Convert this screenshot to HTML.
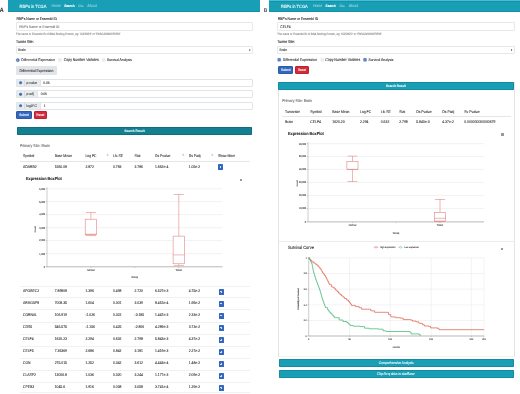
<!DOCTYPE html><html><head><meta charset="utf-8"><style>
html,body{margin:0;padding:0;background:#fff;width:520px;height:394px;overflow:hidden}
.b{position:absolute;box-sizing:border-box}
.t{position:absolute;white-space:nowrap;font-family:"Liberation Sans",sans-serif;line-height:1;text-rendering:geometricPrecision;-webkit-text-stroke-width:0.08px;transform:scaleY(1.15)}
svg{position:absolute;left:0;top:0}
#w{position:absolute;left:0;top:0;width:520px;height:394px;will-change:transform;filter:blur(0.25px)}
</style></head><body><div id="w">
<div class="t" style="left:-0.3px;top:9.4px;font-size:5.4px;font-weight:bold;color:#333">A</div>
<div class="t" style="left:263.7px;top:10.1px;font-size:4.8px;font-weight:bold;color:#555">B</div>
<div class="b" style="left:8.00px;top:0.00px;width:252.30px;height:11.80px;background:#189fb6"></div>
<div class="b" style="left:8.00px;top:10.70px;width:252.30px;height:0.80px;background:#1690a5"></div>
<div class="t" style="left:19.60px;top:5.00px;font-size:4.042px;color:#fff;">RBPs in TCGA</div>
<div class="t" style="left:51.50px;top:5.00px;font-size:3.483px;color:rgba(255,255,255,.45);">Home</div>
<div class="t" style="left:64.20px;top:5.00px;font-size:3.118px;color:#fff;font-weight:bold;">Search</div>
<div class="t" style="left:78.00px;top:5.00px;font-size:2.978px;color:rgba(255,255,255,.45);">Cite</div>
<div class="t" style="left:87.30px;top:5.00px;font-size:3.709px;color:rgba(255,255,255,.45);">About</div>
<div class="b" style="left:269.40px;top:0.00px;width:250.60px;height:11.80px;background:#189fb6"></div>
<div class="b" style="left:269.40px;top:10.70px;width:250.60px;height:0.80px;background:#1690a5"></div>
<div class="b" style="left:269.40px;top:0.00px;width:250.60px;height:0.90px;background:#48bed6"></div>
<div class="b" style="left:269.40px;top:0.90px;width:250.60px;height:0.60px;background:#1592a8"></div>
<div class="t" style="left:281.00px;top:5.00px;font-size:4.042px;color:#fff;">RBPs in TCGA</div>
<div class="t" style="left:312.90px;top:5.00px;font-size:3.483px;color:rgba(255,255,255,.45);">Home</div>
<div class="t" style="left:325.60px;top:5.00px;font-size:3.118px;color:#fff;font-weight:bold;">Search</div>
<div class="t" style="left:339.40px;top:5.00px;font-size:2.978px;color:rgba(255,255,255,.45);">Cite</div>
<div class="t" style="left:348.70px;top:5.00px;font-size:3.709px;color:rgba(255,255,255,.45);">About</div>
<div class="t" style="left:16.40px;top:18.00px;font-size:3.299px;color:#222;">RBP's Name or Ensembl ID</div>
<div class="b" style="left:15.90px;top:21.80px;width:237.10px;height:9.30px;border:0.35px solid #e6e8eb;border-radius:1px;background:#fff"></div>
<div class="t" style="left:19.20px;top:26.00px;font-size:3.275px;color:#777;">RBP's Name or Ensembl ID</div>
<div class="t" style="left:16.00px;top:34.00px;font-size:2.684px;color:#888;">The name or Ensembl ID of RNA Binding Protein, eg: 'IGF2BP2' or 'ENSG00000073792'</div>
<div class="t" style="left:16.00px;top:41.00px;font-size:3.450px;color:#222;">Tumor Site:</div>
<div class="b" style="left:15.90px;top:46.10px;width:237.10px;height:7.80px;border:0.35px solid #e6e8eb;border-radius:1px;background:#fff"></div>
<div class="t" style="left:18.30px;top:49.00px;font-size:3.200px;color:#333;">Brain</div>
<div class="t" style="left:277.70px;top:18.00px;font-size:3.299px;color:#222;">RBP's Name or Ensembl ID</div>
<div class="b" style="left:277.20px;top:21.80px;width:237.60px;height:9.30px;border:0.35px solid #e6e8eb;border-radius:1px;background:#fff"></div>
<div class="t" style="left:280.30px;top:26.00px;font-size:3.300px;color:#333;">CELF4</div>
<div class="t" style="left:277.30px;top:34.00px;font-size:2.684px;color:#888;">The name or Ensembl ID of RNA Binding Protein, eg: 'IGF2BP2' or 'ENSG00000073792'</div>
<div class="t" style="left:277.30px;top:41.00px;font-size:3.450px;color:#222;">Tumor Site:</div>
<div class="b" style="left:277.20px;top:46.10px;width:237.60px;height:7.80px;border:0.35px solid #e6e8eb;border-radius:1px;background:#fff"></div>
<div class="t" style="left:279.60px;top:49.00px;font-size:3.200px;color:#333;">Brain</div>
<div class="t" style="left:21.30px;top:59.00px;font-size:3.375px;color:#333;">Differential Expression</div>
<div class="t" style="left:63.80px;top:59.00px;font-size:3.476px;color:#333;">Copy Number Variates</div>
<div class="t" style="left:107.00px;top:59.00px;font-size:3.331px;color:#333;">Survival Analysis</div>
<div class="b" style="left:16.00px;top:66.30px;width:41.00px;height:8.30px;background:#e1e4e8;border-radius:1px"></div>
<div class="t" style="left:19.50px;top:70.00px;font-size:3.405px;color:#333;">Differential Expression</div>
<div class="b" style="left:16.00px;top:78.90px;width:237.00px;height:7.70px;border:0.3px solid #e2e5e8;border-radius:1px;background:#fff"></div>
<div class="b" style="left:16.00px;top:78.90px;width:24.50px;height:7.70px;background:#e9ecef;border:0.3px solid #e2e5e8;border-radius:1px 0 0 1px"></div>
<div class="b" style="left:24.10px;top:79.20px;width:0.30px;height:7.10px;background:#d8dce0"></div>
<div class="t" style="left:26.50px;top:82.00px;font-size:3.200px;color:#444;">p-value</div>
<div class="t" style="left:43.30px;top:82.00px;font-size:3.200px;color:#333;">0.05</div>
<div class="b" style="left:16.00px;top:90.40px;width:237.00px;height:7.90px;border:0.3px solid #e2e5e8;border-radius:1px;background:#fff"></div>
<div class="b" style="left:16.00px;top:90.40px;width:21.90px;height:7.90px;background:#e9ecef;border:0.3px solid #e2e5e8;border-radius:1px 0 0 1px"></div>
<div class="b" style="left:24.10px;top:90.70px;width:0.30px;height:7.30px;background:#d8dce0"></div>
<div class="t" style="left:26.50px;top:93.00px;font-size:3.200px;color:#444;">p-adj</div>
<div class="t" style="left:40.70px;top:93.00px;font-size:3.200px;color:#333;">0.05</div>
<div class="b" style="left:16.00px;top:102.00px;width:237.00px;height:7.50px;border:0.3px solid #e2e5e8;border-radius:1px;background:#fff"></div>
<div class="b" style="left:16.00px;top:102.00px;width:25.00px;height:7.50px;background:#e9ecef;border:0.3px solid #e2e5e8;border-radius:1px 0 0 1px"></div>
<div class="b" style="left:24.10px;top:102.30px;width:0.30px;height:6.90px;background:#d8dce0"></div>
<div class="t" style="left:26.50px;top:105.00px;font-size:3.200px;color:#444;">log2FC</div>
<div class="t" style="left:43.80px;top:105.00px;font-size:3.200px;color:#333;">1</div>
<div class="b" style="left:16.00px;top:111.00px;width:16.20px;height:7.80px;background:#3468bd;border-radius:1px;border:0.5px solid #2b5aa6"></div>
<div class="t" style="left:19.28px;top:114.00px;font-size:3.100px;color:#fff;">Submit</div>
<div class="b" style="left:33.90px;top:111.00px;width:12.90px;height:7.80px;background:#d62a3b;border-radius:1px;border:0.5px solid #bb2232"></div>
<div class="t" style="left:36.30px;top:114.00px;font-size:3.100px;color:#fff;">Reset</div>
<div class="b" style="left:17.20px;top:126.80px;width:235.30px;height:7.90px;background:#137f91;border-radius:0.8px;border:0.5px solid #0f6e7e"></div>
<div class="t" style="left:124.60px;top:130.00px;font-size:3.028px;color:#e8f6f8;font-weight:bold;">Search Result</div>
<div class="t" style="left:20.00px;top:145.00px;font-size:3.599px;color:#6a6a6a;">Primary Site: Brain</div>
<div class="t" style="left:23.00px;top:155.00px;font-size:3.400px;color:#333;">Symbol</div>
<div class="t" style="left:54.70px;top:155.00px;font-size:3.400px;color:#333;">Base Mean</div>
<div class="t" style="left:85.40px;top:155.00px;font-size:3.400px;color:#333;">Log FC</div>
<div class="t" style="left:113.00px;top:155.00px;font-size:3.400px;color:#333;">Lfc SE</div>
<div class="t" style="left:134.50px;top:155.00px;font-size:3.400px;color:#333;">Stat</div>
<div class="t" style="left:155.00px;top:155.00px;font-size:3.400px;color:#333;">Ds Pvalue</div>
<div class="t" style="left:188.75px;top:155.00px;font-size:3.400px;color:#333;">Ds Padj</div>
<div class="t" style="left:218.00px;top:155.00px;font-size:3.400px;color:#333;">Show More</div>
<div class="t" style="left:106.60px;top:154.50px;font-size:2.6px;color:#bbb">&#8645;</div>
<div class="t" style="left:182.20px;top:154.50px;font-size:2.6px;color:#bbb">&#8645;</div>
<div class="t" style="left:211.20px;top:154.50px;font-size:2.6px;color:#bbb">&#8645;</div>
<div class="b" style="left:20.00px;top:161.00px;width:230.00px;height:0.35px;background:#e6e6e6"></div>
<div class="t" style="left:23.00px;top:166.00px;font-size:3.400px;color:#333;">ADARB2</div>
<div class="t" style="left:54.70px;top:166.00px;font-size:3.400px;color:#333;">1560.08</div>
<div class="t" style="left:85.40px;top:166.00px;font-size:3.400px;color:#333;">2.872</div>
<div class="t" style="left:113.00px;top:166.00px;font-size:3.400px;color:#333;">0.783</div>
<div class="t" style="left:134.50px;top:166.00px;font-size:3.400px;color:#333;">3.786</div>
<div class="t" style="left:155.00px;top:166.00px;font-size:3.400px;color:#333;">1.662e-4</div>
<div class="t" style="left:188.75px;top:166.00px;font-size:3.400px;color:#333;">1.05e-2</div>
<div class="b" style="left:218.00px;top:164.30px;width:5.00px;height:6.00px;background:#3468bd;border-radius:0.6px"></div>
<div class="b" style="left:219.60px;top:167.05px;width:1.8px;height:0.5px;background:#cfe0ff"></div>
<div class="b" style="left:220.25px;top:166.40px;width:0.5px;height:1.8px;background:#cfe0ff"></div>
<div class="b" style="left:20.00px;top:285.50px;width:230.00px;height:0.30px;background:#f1f1f1"></div>
<div class="t" style="left:23.00px;top:290.00px;font-size:3.400px;color:#333;">APOBEC2</div>
<div class="t" style="left:54.70px;top:290.00px;font-size:3.400px;color:#333;">7.89808</div>
<div class="t" style="left:85.40px;top:290.00px;font-size:3.400px;color:#333;">1.396</div>
<div class="t" style="left:113.00px;top:290.00px;font-size:3.400px;color:#333;">0.498</div>
<div class="t" style="left:134.50px;top:290.00px;font-size:3.400px;color:#333;">2.720</div>
<div class="t" style="left:155.00px;top:290.00px;font-size:3.400px;color:#333;">6.527e-3</div>
<div class="t" style="left:188.75px;top:290.00px;font-size:3.400px;color:#333;">4.75e-2</div>
<div class="b" style="left:218.50px;top:288.70px;width:5.00px;height:6.00px;background:#3468bd;border-radius:0.6px"></div>
<div class="b" style="left:220.10px;top:291.45px;width:1.8px;height:0.5px;background:#cfe0ff"></div>
<div class="b" style="left:220.75px;top:290.80px;width:0.5px;height:1.8px;background:#cfe0ff"></div>
<div class="b" style="left:20.00px;top:297.30px;width:230.00px;height:0.30px;background:#f1f1f1"></div>
<div class="t" style="left:23.00px;top:302.00px;font-size:3.400px;color:#333;">ARHGAP8</div>
<div class="t" style="left:54.70px;top:302.00px;font-size:3.400px;color:#333;">7008.35</div>
<div class="t" style="left:85.40px;top:302.00px;font-size:3.400px;color:#333;">1.604</div>
<div class="t" style="left:113.00px;top:302.00px;font-size:3.400px;color:#333;">0.301</div>
<div class="t" style="left:134.50px;top:302.00px;font-size:3.400px;color:#333;">3.039</div>
<div class="t" style="left:155.00px;top:302.00px;font-size:3.400px;color:#333;">8.415e-4</div>
<div class="t" style="left:188.75px;top:302.00px;font-size:3.400px;color:#333;">1.95e-2</div>
<div class="b" style="left:218.50px;top:300.50px;width:5.00px;height:6.00px;background:#3468bd;border-radius:0.6px"></div>
<div class="b" style="left:220.10px;top:303.25px;width:1.8px;height:0.5px;background:#cfe0ff"></div>
<div class="b" style="left:220.75px;top:302.60px;width:0.5px;height:1.8px;background:#cfe0ff"></div>
<div class="b" style="left:20.00px;top:309.30px;width:230.00px;height:0.30px;background:#f1f1f1"></div>
<div class="t" style="left:23.00px;top:314.00px;font-size:3.400px;color:#333;">CORNAL</div>
<div class="t" style="left:54.70px;top:314.00px;font-size:3.400px;color:#333;">106.919</div>
<div class="t" style="left:85.40px;top:314.00px;font-size:3.400px;color:#333;">-1.026</div>
<div class="t" style="left:113.00px;top:314.00px;font-size:3.400px;color:#333;">0.322</div>
<div class="t" style="left:134.50px;top:314.00px;font-size:3.400px;color:#333;">-3.185</div>
<div class="t" style="left:155.00px;top:314.00px;font-size:3.400px;color:#333;">1.447e-3</div>
<div class="t" style="left:188.75px;top:314.00px;font-size:3.400px;color:#333;">2.33e-2</div>
<div class="b" style="left:218.50px;top:312.50px;width:5.00px;height:6.00px;background:#3468bd;border-radius:0.6px"></div>
<div class="b" style="left:220.10px;top:315.25px;width:1.8px;height:0.5px;background:#cfe0ff"></div>
<div class="b" style="left:220.75px;top:314.60px;width:0.5px;height:1.8px;background:#cfe0ff"></div>
<div class="b" style="left:20.00px;top:321.50px;width:230.00px;height:0.30px;background:#f1f1f1"></div>
<div class="t" style="left:23.00px;top:326.00px;font-size:3.400px;color:#333;">CDS5</div>
<div class="t" style="left:54.70px;top:326.00px;font-size:3.400px;color:#333;">546.575</div>
<div class="t" style="left:85.40px;top:326.00px;font-size:3.400px;color:#333;">-1.156</div>
<div class="t" style="left:113.00px;top:326.00px;font-size:3.400px;color:#333;">0.425</div>
<div class="t" style="left:134.50px;top:326.00px;font-size:3.400px;color:#333;">-2.806</div>
<div class="t" style="left:155.00px;top:326.00px;font-size:3.400px;color:#333;">4.289e-3</div>
<div class="t" style="left:188.75px;top:326.00px;font-size:3.400px;color:#333;">3.73e-2</div>
<div class="b" style="left:218.50px;top:324.70px;width:5.00px;height:6.00px;background:#3468bd;border-radius:0.6px"></div>
<div class="b" style="left:220.10px;top:327.45px;width:1.8px;height:0.5px;background:#cfe0ff"></div>
<div class="b" style="left:220.75px;top:326.80px;width:0.5px;height:1.8px;background:#cfe0ff"></div>
<div class="b" style="left:20.00px;top:333.70px;width:230.00px;height:0.30px;background:#f1f1f1"></div>
<div class="t" style="left:23.00px;top:338.00px;font-size:3.400px;color:#333;">CELF4</div>
<div class="t" style="left:54.70px;top:338.00px;font-size:3.400px;color:#333;">1620.23</div>
<div class="t" style="left:85.40px;top:338.00px;font-size:3.400px;color:#333;">2.294</div>
<div class="t" style="left:113.00px;top:338.00px;font-size:3.400px;color:#333;">0.632</div>
<div class="t" style="left:134.50px;top:338.00px;font-size:3.400px;color:#333;">2.798</div>
<div class="t" style="left:155.00px;top:338.00px;font-size:3.400px;color:#333;">5.843e-3</div>
<div class="t" style="left:188.75px;top:338.00px;font-size:3.400px;color:#333;">4.37e-2</div>
<div class="b" style="left:218.50px;top:336.90px;width:5.00px;height:6.00px;background:#3468bd;border-radius:0.6px"></div>
<div class="b" style="left:220.10px;top:339.65px;width:1.8px;height:0.5px;background:#cfe0ff"></div>
<div class="b" style="left:220.75px;top:339.00px;width:0.5px;height:1.8px;background:#cfe0ff"></div>
<div class="b" style="left:20.00px;top:345.70px;width:230.00px;height:0.30px;background:#f1f1f1"></div>
<div class="t" style="left:23.00px;top:350.00px;font-size:3.400px;color:#333;">CELF5</div>
<div class="t" style="left:54.70px;top:350.00px;font-size:3.400px;color:#333;">7.36369</div>
<div class="t" style="left:85.40px;top:350.00px;font-size:3.400px;color:#333;">2.686</div>
<div class="t" style="left:113.00px;top:350.00px;font-size:3.400px;color:#333;">0.842</div>
<div class="t" style="left:134.50px;top:350.00px;font-size:3.400px;color:#333;">3.181</div>
<div class="t" style="left:155.00px;top:350.00px;font-size:3.400px;color:#333;">1.419e-3</div>
<div class="t" style="left:188.75px;top:350.00px;font-size:3.400px;color:#333;">2.27e-2</div>
<div class="b" style="left:218.50px;top:348.90px;width:5.00px;height:6.00px;background:#3468bd;border-radius:0.6px"></div>
<div class="b" style="left:220.10px;top:351.65px;width:1.8px;height:0.5px;background:#cfe0ff"></div>
<div class="b" style="left:220.75px;top:351.00px;width:0.5px;height:1.8px;background:#cfe0ff"></div>
<div class="b" style="left:20.00px;top:357.70px;width:230.00px;height:0.30px;background:#f1f1f1"></div>
<div class="t" style="left:23.00px;top:362.00px;font-size:3.400px;color:#333;">CGN</div>
<div class="t" style="left:54.70px;top:362.00px;font-size:3.400px;color:#333;">275.015</div>
<div class="t" style="left:85.40px;top:362.00px;font-size:3.400px;color:#333;">1.252</div>
<div class="t" style="left:113.00px;top:362.00px;font-size:3.400px;color:#333;">0.342</div>
<div class="t" style="left:134.50px;top:362.00px;font-size:3.400px;color:#333;">3.612</div>
<div class="t" style="left:155.00px;top:362.00px;font-size:3.400px;color:#333;">4.443e-4</div>
<div class="t" style="left:188.75px;top:362.00px;font-size:3.400px;color:#333;">1.48e-2</div>
<div class="b" style="left:218.50px;top:360.90px;width:5.00px;height:6.00px;background:#3468bd;border-radius:0.6px"></div>
<div class="b" style="left:220.10px;top:363.65px;width:1.8px;height:0.5px;background:#cfe0ff"></div>
<div class="b" style="left:220.75px;top:363.00px;width:0.5px;height:1.8px;background:#cfe0ff"></div>
<div class="b" style="left:20.00px;top:369.70px;width:230.00px;height:0.30px;background:#f1f1f1"></div>
<div class="t" style="left:23.00px;top:374.00px;font-size:3.400px;color:#333;">CLASP2</div>
<div class="t" style="left:54.70px;top:374.00px;font-size:3.400px;color:#333;">13006.8</div>
<div class="t" style="left:85.40px;top:374.00px;font-size:3.400px;color:#333;">1.036</div>
<div class="t" style="left:113.00px;top:374.00px;font-size:3.400px;color:#333;">0.320</div>
<div class="t" style="left:134.50px;top:374.00px;font-size:3.400px;color:#333;">3.244</div>
<div class="t" style="left:155.00px;top:374.00px;font-size:3.400px;color:#333;">1.177e-3</div>
<div class="t" style="left:188.75px;top:374.00px;font-size:3.400px;color:#333;">2.09e-2</div>
<div class="b" style="left:218.50px;top:372.90px;width:5.00px;height:6.00px;background:#3468bd;border-radius:0.6px"></div>
<div class="b" style="left:220.10px;top:375.65px;width:1.8px;height:0.5px;background:#cfe0ff"></div>
<div class="b" style="left:220.75px;top:375.00px;width:0.5px;height:1.8px;background:#cfe0ff"></div>
<div class="b" style="left:20.00px;top:381.50px;width:230.00px;height:0.30px;background:#f1f1f1"></div>
<div class="t" style="left:23.00px;top:386.00px;font-size:3.400px;color:#333;">CPEB3</div>
<div class="t" style="left:54.70px;top:386.00px;font-size:3.400px;color:#333;">1045.6</div>
<div class="t" style="left:85.40px;top:386.00px;font-size:3.400px;color:#333;">1.916</div>
<div class="t" style="left:113.00px;top:386.00px;font-size:3.400px;color:#333;">0.038</div>
<div class="t" style="left:134.50px;top:386.00px;font-size:3.400px;color:#333;">3.058</div>
<div class="t" style="left:155.00px;top:386.00px;font-size:3.400px;color:#333;">3.741e-4</div>
<div class="t" style="left:188.75px;top:386.00px;font-size:3.400px;color:#333;">1.29e-2</div>
<div class="b" style="left:218.50px;top:384.70px;width:5.00px;height:6.00px;background:#3468bd;border-radius:0.6px"></div>
<div class="b" style="left:220.10px;top:387.45px;width:1.8px;height:0.5px;background:#cfe0ff"></div>
<div class="b" style="left:220.75px;top:386.80px;width:0.5px;height:1.8px;background:#cfe0ff"></div>
<div class="b" style="left:20.00px;top:392.40px;width:230.00px;height:0.30px;background:#f1f1f1"></div>
<div class="t" style="left:26.00px;top:178.00px;font-size:3.812px;color:#222;font-weight:bold;">Expression BoxPlot</div>
<div class="b" style="left:240.10px;top:178.80px;width:2.2px;height:0.4px;background:#999"></div>
<div class="b" style="left:240.10px;top:179.60px;width:2.2px;height:0.4px;background:#999"></div>
<div class="b" style="left:240.10px;top:180.40px;width:2.2px;height:0.4px;background:#999"></div>
<div class="t" style="left:39.24px;top:189.00px;font-size:2.300px;color:#444;">6,000</div>
<div class="t" style="left:39.24px;top:202.00px;font-size:2.300px;color:#444;">5,000</div>
<div class="t" style="left:39.24px;top:214.00px;font-size:2.300px;color:#444;">4,000</div>
<div class="t" style="left:39.24px;top:228.00px;font-size:2.300px;color:#444;">3,000</div>
<div class="t" style="left:39.24px;top:240.00px;font-size:2.300px;color:#444;">2,000</div>
<div class="t" style="left:39.24px;top:254.00px;font-size:2.300px;color:#444;">1,000</div>
<div class="t" style="left:43.72px;top:267.00px;font-size:2.300px;color:#444;">0</div>
<div class="t" style="left:87.19px;top:270.00px;font-size:2.300px;color:#444;">Normal</div>
<div class="t" style="left:175.52px;top:270.00px;font-size:2.300px;color:#444;">Tumor</div>
<div class="t" style="left:131.55px;top:277.00px;font-size:2.300px;color:#444;">Group</div>
<div class="t" style="left:32.93px;top:227.87px;font-size:2.3px;color:#444;transform:rotate(-90deg);transform-origin:3.07px 1.13px">Count</div>
<div class="b" style="left:277.60px;top:82.20px;width:237.40px;height:275.10px;border:0.4px solid #e4e4e4;border-top:none;border-bottom-color:#f4f4f4"></div>
<div class="b" style="left:278.30px;top:82.00px;width:236.00px;height:8.20px;background:#189fb6;border-radius:0.8px;border:0.5px solid #148ba0"></div>
<div class="t" style="left:386.00px;top:85.00px;font-size:2.999px;color:#eaf8fa;font-weight:bold;">Search Result</div>
<div class="t" style="left:282.20px;top:100.00px;font-size:3.599px;color:#6a6a6a;">Primary Site: Brain</div>
<div class="t" style="left:285.00px;top:111.00px;font-size:3.400px;color:#333;">Tumorsite</div>
<div class="t" style="left:310.30px;top:111.00px;font-size:3.400px;color:#333;">Symbol</div>
<div class="t" style="left:332.30px;top:111.00px;font-size:3.400px;color:#333;">Base Mean</div>
<div class="t" style="left:360.00px;top:111.00px;font-size:3.400px;color:#333;">Log FC</div>
<div class="t" style="left:380.80px;top:111.00px;font-size:3.400px;color:#333;">Lfc SE</div>
<div class="t" style="left:399.20px;top:111.00px;font-size:3.400px;color:#333;">Stat</div>
<div class="t" style="left:416.20px;top:111.00px;font-size:3.400px;color:#333;">Ds Pvalue</div>
<div class="t" style="left:442.30px;top:111.00px;font-size:3.400px;color:#333;">Ds Padj</div>
<div class="t" style="left:464.30px;top:111.00px;font-size:3.400px;color:#333;">Sv Pvalue</div>
<div class="b" style="left:282.00px;top:116.10px;width:228.50px;height:0.35px;background:#e6e6e6"></div>
<div class="t" style="left:285.00px;top:121.00px;font-size:3.400px;color:#333;">Brain</div>
<div class="t" style="left:310.30px;top:121.00px;font-size:3.400px;color:#333;">CELF4</div>
<div class="t" style="left:332.30px;top:121.00px;font-size:3.400px;color:#333;">1620.23</div>
<div class="t" style="left:360.00px;top:121.00px;font-size:3.400px;color:#333;">2.294</div>
<div class="t" style="left:380.80px;top:121.00px;font-size:3.400px;color:#333;">0.632</div>
<div class="t" style="left:399.20px;top:121.00px;font-size:3.400px;color:#333;">2.798</div>
<div class="t" style="left:416.20px;top:121.00px;font-size:3.400px;color:#333;">5.843e-3</div>
<div class="t" style="left:442.30px;top:121.00px;font-size:3.400px;color:#333;">4.37e-2</div>
<div class="t" style="left:464.30px;top:121.00px;font-size:3.400px;color:#333;">0.000000000000679</div>
<div class="t" style="left:288.00px;top:133.00px;font-size:3.812px;color:#222;font-weight:bold;">Expression BoxPlot</div>
<div class="b" style="left:501.40px;top:133.30px;width:2.2px;height:0.4px;background:#999"></div>
<div class="b" style="left:501.40px;top:134.10px;width:2.2px;height:0.4px;background:#999"></div>
<div class="b" style="left:501.40px;top:134.90px;width:2.2px;height:0.4px;background:#999"></div>
<div class="t" style="left:298.96px;top:144.00px;font-size:2.300px;color:#444;">60,000</div>
<div class="t" style="left:298.96px;top:156.00px;font-size:2.300px;color:#444;">50,000</div>
<div class="t" style="left:298.96px;top:169.00px;font-size:2.300px;color:#444;">40,000</div>
<div class="t" style="left:298.96px;top:182.00px;font-size:2.300px;color:#444;">30,000</div>
<div class="t" style="left:298.96px;top:195.00px;font-size:2.300px;color:#444;">20,000</div>
<div class="t" style="left:298.96px;top:208.00px;font-size:2.300px;color:#444;">10,000</div>
<div class="t" style="left:304.72px;top:222.00px;font-size:2.300px;color:#444;">0</div>
<div class="t" style="left:348.79px;top:225.00px;font-size:2.300px;color:#444;">Normal</div>
<div class="t" style="left:436.72px;top:225.00px;font-size:2.300px;color:#444;">Tumor</div>
<div class="t" style="left:392.80px;top:233.00px;font-size:2.300px;color:#444;">Group</div>
<div class="t" style="left:294.63px;top:182.27px;font-size:2.3px;color:#444;transform:rotate(-90deg);transform-origin:3.07px 1.13px">Count</div>
<div class="b" style="left:279.00px;top:241.00px;width:235.50px;height:0.35px;background:#ececec"></div>
<div class="t" style="left:287.90px;top:246.00px;font-size:4.015px;color:#222;">Survival Curve</div>
<div class="b" style="left:501.30px;top:247.80px;width:2.2px;height:0.4px;background:#999"></div>
<div class="b" style="left:501.30px;top:248.60px;width:2.2px;height:0.4px;background:#999"></div>
<div class="b" style="left:501.30px;top:249.40px;width:2.2px;height:0.4px;background:#999"></div>
<div class="t" style="left:380.00px;top:247.00px;font-size:2.176px;color:#444;">High expression</div>
<div class="t" style="left:404.20px;top:247.00px;font-size:2.158px;color:#444;">Low expression</div>
<div class="t" style="left:305.58px;top:258.00px;font-size:2.200px;color:#444;">1</div>
<div class="t" style="left:303.74px;top:273.00px;font-size:2.200px;color:#444;">0.8</div>
<div class="t" style="left:303.74px;top:289.00px;font-size:2.200px;color:#444;">0.6</div>
<div class="t" style="left:303.74px;top:305.00px;font-size:2.200px;color:#444;">0.4</div>
<div class="t" style="left:303.74px;top:320.00px;font-size:2.200px;color:#444;">0.2</div>
<div class="t" style="left:305.58px;top:336.00px;font-size:2.200px;color:#444;">0</div>
<div class="t" style="left:308.09px;top:339.00px;font-size:2.200px;color:#444;">0</div>
<div class="t" style="left:348.38px;top:339.00px;font-size:2.200px;color:#444;">50</div>
<div class="t" style="left:388.36px;top:339.00px;font-size:2.200px;color:#444;">100</div>
<div class="t" style="left:429.36px;top:339.00px;font-size:2.200px;color:#444;">150</div>
<div class="t" style="left:469.56px;top:339.00px;font-size:2.200px;color:#444;">200</div>
<div class="t" style="left:482.16px;top:339.00px;font-size:2.200px;color:#444;">215</div>
<div class="t" style="left:392.79px;top:347.00px;font-size:2.200px;color:#444;">months</div>
<div class="t" style="left:287.72px;top:297.92px;font-size:2.2px;color:#444;transform:rotate(-90deg);transform-origin:10.58px 1.08px">Probability of Survival</div>
<div class="b" style="left:278.90px;top:358.90px;width:235.10px;height:7.80px;background:#189fb6;border-radius:0.8px;border:0.5px solid #148ba0"></div>
<div class="t" style="left:378.80px;top:362.00px;font-size:3.196px;color:#f0fafb;">Comprehensive Analysis</div>
<div class="b" style="left:278.90px;top:370.20px;width:235.10px;height:7.90px;background:#189fb6;border-radius:0.8px;border:0.5px solid #148ba0"></div>
<div class="t" style="left:377.00px;top:373.00px;font-size:3.351px;color:#f0fafb;">Clip-Seq data in starBase</div>
<div class="t" style="left:282.80px;top:59.00px;font-size:3.425px;color:#333;">Differential Expression</div>
<div class="t" style="left:325.30px;top:59.00px;font-size:3.486px;color:#333;">Copy Number Variates</div>
<div class="t" style="left:368.50px;top:59.00px;font-size:3.331px;color:#333;">Survival Analysis</div>
<div class="b" style="left:277.80px;top:66.40px;width:15.70px;height:7.70px;background:#3468bd;border-radius:1px;border:0.5px solid #2b5aa6"></div>
<div class="t" style="left:280.88px;top:69.00px;font-size:3.100px;color:#fff;">Submit</div>
<div class="b" style="left:295.30px;top:66.40px;width:13.30px;height:7.70px;background:#d62a3b;border-radius:1px;border:0.5px solid #bb2232"></div>
<div class="t" style="left:297.90px;top:69.00px;font-size:3.100px;color:#fff;">Reset</div>
<svg width="520" height="394" viewBox="0 0 520 394"><path d="M249.10,49.7 L250.50,49.7 L249.80,48.8 Z M249.10,50.3 L250.50,50.3 L249.80,51.2 Z" fill="#333"/><path d="M510.90,49.7 L512.30,49.7 L511.60,48.8 Z M510.90,50.3 L512.30,50.3 L511.60,51.2 Z" fill="#333"/><circle cx="17.80" cy="60.10" r="1.65" fill="#3f6db5" stroke="#2f5aa0" stroke-width="0.3"/><circle cx="17.80" cy="60.10" r="0.63" fill="#dde8fa"/><rect x="58.40" y="58.60" width="3.00" height="3.00" rx="0.5" fill="#eef0f2" stroke="#d0d4d8" stroke-width="0.25"/><rect x="102.20" y="58.60" width="3.00" height="3.00" rx="0.5" fill="#eef0f2" stroke="#d0d4d8" stroke-width="0.25"/><circle cx="20.60" cy="82.75" r="1.35" fill="#3f6db5" stroke="#2f5aa0" stroke-width="0.3"/><circle cx="20.60" cy="94.35" r="1.35" fill="#3f6db5" stroke="#2f5aa0" stroke-width="0.3"/><circle cx="20.60" cy="105.75" r="1.35" fill="#3f6db5" stroke="#2f5aa0" stroke-width="0.3"/><line x1="47.00" y1="188.80" x2="222.50" y2="188.80" stroke="#e4e4e4" stroke-width="0.5"/><line x1="45.70" y1="188.80" x2="47.00" y2="188.80" stroke="#9a9a9a" stroke-width="0.4"/><line x1="47.00" y1="201.70" x2="222.50" y2="201.70" stroke="#e4e4e4" stroke-width="0.5"/><line x1="45.70" y1="201.70" x2="47.00" y2="201.70" stroke="#9a9a9a" stroke-width="0.4"/><line x1="47.00" y1="214.60" x2="222.50" y2="214.60" stroke="#e4e4e4" stroke-width="0.5"/><line x1="45.70" y1="214.60" x2="47.00" y2="214.60" stroke="#9a9a9a" stroke-width="0.4"/><line x1="47.00" y1="227.70" x2="222.50" y2="227.70" stroke="#e4e4e4" stroke-width="0.5"/><line x1="45.70" y1="227.70" x2="47.00" y2="227.70" stroke="#9a9a9a" stroke-width="0.4"/><line x1="47.00" y1="240.60" x2="222.50" y2="240.60" stroke="#e4e4e4" stroke-width="0.5"/><line x1="45.70" y1="240.60" x2="47.00" y2="240.60" stroke="#9a9a9a" stroke-width="0.4"/><line x1="47.00" y1="253.70" x2="222.50" y2="253.70" stroke="#e4e4e4" stroke-width="0.5"/><line x1="45.70" y1="253.70" x2="47.00" y2="253.70" stroke="#9a9a9a" stroke-width="0.4"/><line x1="47.00" y1="187.30" x2="47.00" y2="266.80" stroke="#9a9a9a" stroke-width="0.5"/><line x1="45.70" y1="266.80" x2="222.50" y2="266.80" stroke="#9a9a9a" stroke-width="0.7"/><line x1="90.90" y1="266.80" x2="90.90" y2="268.00" stroke="#9a9a9a" stroke-width="0.4"/><line x1="134.75" y1="266.80" x2="134.75" y2="268.00" stroke="#9a9a9a" stroke-width="0.4"/><line x1="178.80" y1="266.80" x2="178.80" y2="268.00" stroke="#9a9a9a" stroke-width="0.4"/><rect x="85.20" y="219.20" width="11.40" height="15.60" stroke="#e07a7a" stroke-width="0.55" fill="#fff"/><line x1="85.80" y1="212.50" x2="96.00" y2="212.50" stroke="#e07a7a" stroke-width="0.55"/><line x1="90.90" y1="212.50" x2="90.90" y2="219.20" stroke="#e07a7a" stroke-width="0.55"/><line x1="90.90" y1="234.80" x2="90.90" y2="235.60" stroke="#e07a7a" stroke-width="0.55"/><line x1="85.80" y1="235.60" x2="96.00" y2="235.60" stroke="#e07a7a" stroke-width="0.55"/><line x1="85.20" y1="234.20" x2="96.60" y2="234.20" stroke="#e07a7a" stroke-width="0.55"/><rect x="173.10" y="236.10" width="11.40" height="27.70" stroke="#e07a7a" stroke-width="0.55" fill="#fff"/><line x1="173.70" y1="194.50" x2="183.90" y2="194.50" stroke="#e07a7a" stroke-width="0.55"/><line x1="178.80" y1="194.50" x2="178.80" y2="236.10" stroke="#e07a7a" stroke-width="0.55"/><line x1="178.80" y1="263.80" x2="178.80" y2="265.60" stroke="#e07a7a" stroke-width="0.55"/><line x1="173.70" y1="265.60" x2="183.90" y2="265.60" stroke="#e07a7a" stroke-width="0.55"/><line x1="173.10" y1="254.90" x2="184.50" y2="254.90" stroke="#e07a7a" stroke-width="0.55"/><line x1="308.00" y1="143.70" x2="484.00" y2="143.70" stroke="#e4e4e4" stroke-width="0.5"/><line x1="306.70" y1="143.70" x2="308.00" y2="143.70" stroke="#9a9a9a" stroke-width="0.4"/><line x1="308.00" y1="156.60" x2="484.00" y2="156.60" stroke="#e4e4e4" stroke-width="0.5"/><line x1="306.70" y1="156.60" x2="308.00" y2="156.60" stroke="#9a9a9a" stroke-width="0.4"/><line x1="308.00" y1="169.40" x2="484.00" y2="169.40" stroke="#e4e4e4" stroke-width="0.5"/><line x1="306.70" y1="169.40" x2="308.00" y2="169.40" stroke="#9a9a9a" stroke-width="0.4"/><line x1="308.00" y1="182.40" x2="484.00" y2="182.40" stroke="#e4e4e4" stroke-width="0.5"/><line x1="306.70" y1="182.40" x2="308.00" y2="182.40" stroke="#9a9a9a" stroke-width="0.4"/><line x1="308.00" y1="195.60" x2="484.00" y2="195.60" stroke="#e4e4e4" stroke-width="0.5"/><line x1="306.70" y1="195.60" x2="308.00" y2="195.60" stroke="#9a9a9a" stroke-width="0.4"/><line x1="308.00" y1="208.60" x2="484.00" y2="208.60" stroke="#e4e4e4" stroke-width="0.5"/><line x1="306.70" y1="208.60" x2="308.00" y2="208.60" stroke="#9a9a9a" stroke-width="0.4"/><line x1="308.00" y1="142.20" x2="308.00" y2="221.90" stroke="#9a9a9a" stroke-width="0.5"/><line x1="306.70" y1="221.90" x2="484.00" y2="221.90" stroke="#9a9a9a" stroke-width="0.7"/><line x1="352.50" y1="221.90" x2="352.50" y2="223.10" stroke="#9a9a9a" stroke-width="0.4"/><line x1="396.00" y1="221.90" x2="396.00" y2="223.10" stroke="#9a9a9a" stroke-width="0.4"/><line x1="440.00" y1="221.90" x2="440.00" y2="223.10" stroke="#9a9a9a" stroke-width="0.4"/><rect x="346.90" y="161.30" width="11.10" height="8.00" stroke="#e07a7a" stroke-width="0.55" fill="#fff"/><line x1="347.50" y1="156.10" x2="357.40" y2="156.10" stroke="#e07a7a" stroke-width="0.55"/><line x1="352.50" y1="156.10" x2="352.50" y2="161.30" stroke="#e07a7a" stroke-width="0.55"/><line x1="352.50" y1="169.30" x2="352.50" y2="181.50" stroke="#e07a7a" stroke-width="0.55"/><line x1="347.50" y1="181.50" x2="357.40" y2="181.50" stroke="#e07a7a" stroke-width="0.55"/><line x1="346.90" y1="169.30" x2="358.00" y2="169.30" stroke="#e07a7a" stroke-width="0.55"/><rect x="434.30" y="212.50" width="11.40" height="8.50" stroke="#e07a7a" stroke-width="0.55" fill="#fff"/><line x1="434.90" y1="199.50" x2="445.10" y2="199.50" stroke="#e07a7a" stroke-width="0.55"/><line x1="440.00" y1="199.50" x2="440.00" y2="212.50" stroke="#e07a7a" stroke-width="0.55"/><line x1="440.00" y1="221.00" x2="440.00" y2="221.60" stroke="#e07a7a" stroke-width="0.55"/><line x1="434.90" y1="221.60" x2="445.10" y2="221.60" stroke="#e07a7a" stroke-width="0.55"/><line x1="434.30" y1="218.30" x2="445.70" y2="218.30" stroke="#e07a7a" stroke-width="0.55"/><line x1="373.70" y1="247.30" x2="378.30" y2="247.30" stroke="#e07060" stroke-width="0.5"/><circle cx="376" cy="247.3" r="0.9" fill="#fff" stroke="#e07060" stroke-width="0.45"/><line x1="398.40" y1="247.30" x2="402.50" y2="247.30" stroke="#5cbf85" stroke-width="0.5"/><circle cx="400.45" cy="247.3" r="0.9" fill="#fff" stroke="#5cbf85" stroke-width="0.45"/><line x1="308.70" y1="257.80" x2="484.00" y2="257.80" stroke="#e4e4e4" stroke-width="0.45"/><line x1="307.50" y1="257.80" x2="308.70" y2="257.80" stroke="#9a9a9a" stroke-width="0.4"/><line x1="308.70" y1="273.50" x2="484.00" y2="273.50" stroke="#e4e4e4" stroke-width="0.45"/><line x1="307.50" y1="273.50" x2="308.70" y2="273.50" stroke="#9a9a9a" stroke-width="0.4"/><line x1="308.70" y1="289.20" x2="484.00" y2="289.20" stroke="#e4e4e4" stroke-width="0.45"/><line x1="307.50" y1="289.20" x2="308.70" y2="289.20" stroke="#9a9a9a" stroke-width="0.4"/><line x1="308.70" y1="304.90" x2="484.00" y2="304.90" stroke="#e4e4e4" stroke-width="0.45"/><line x1="307.50" y1="304.90" x2="308.70" y2="304.90" stroke="#9a9a9a" stroke-width="0.4"/><line x1="308.70" y1="320.50" x2="484.00" y2="320.50" stroke="#e4e4e4" stroke-width="0.45"/><line x1="307.50" y1="320.50" x2="308.70" y2="320.50" stroke="#9a9a9a" stroke-width="0.4"/><line x1="349.60" y1="257.80" x2="349.60" y2="336.00" stroke="#e4e4e4" stroke-width="0.45"/><line x1="349.60" y1="336.00" x2="349.60" y2="337.10" stroke="#9a9a9a" stroke-width="0.4"/><line x1="390.20" y1="257.80" x2="390.20" y2="336.00" stroke="#e4e4e4" stroke-width="0.45"/><line x1="390.20" y1="336.00" x2="390.20" y2="337.10" stroke="#9a9a9a" stroke-width="0.4"/><line x1="431.20" y1="257.80" x2="431.20" y2="336.00" stroke="#e4e4e4" stroke-width="0.45"/><line x1="431.20" y1="336.00" x2="431.20" y2="337.10" stroke="#9a9a9a" stroke-width="0.4"/><line x1="471.40" y1="257.80" x2="471.40" y2="336.00" stroke="#e4e4e4" stroke-width="0.45"/><line x1="471.40" y1="336.00" x2="471.40" y2="337.10" stroke="#9a9a9a" stroke-width="0.4"/><line x1="484.00" y1="257.80" x2="484.00" y2="336.00" stroke="#e4e4e4" stroke-width="0.45"/><line x1="484.00" y1="336.00" x2="484.00" y2="337.10" stroke="#9a9a9a" stroke-width="0.4"/><line x1="308.70" y1="257.80" x2="308.70" y2="336.00" stroke="#9a9a9a" stroke-width="0.5"/><line x1="307.50" y1="336.00" x2="484.00" y2="336.00" stroke="#9a9a9a" stroke-width="0.7"/><path d="M308.40,257.80 H309.57 V259.17 H310.73 V260.53 H311.90 V261.90 H313.80 V263.15 H315.70 V264.40 H317.20 V265.80 H318.70 V267.20 H319.85 V268.70 H321.00 V270.20 H321.77 V271.47 H322.53 V272.73 H323.30 V274.00 H324.45 V275.55 H325.60 V277.10 H326.33 V278.60 H327.07 V280.10 H327.80 V281.60 H328.60 V283.15 H329.40 V284.70 H331.60 V287.00 H333.20 V287.30 H334.35 V288.65 H335.50 V290.00 H337.00 V291.53 H338.50 V293.07 H340.00 V294.60 H341.53 V295.90 H343.07 V297.20 H344.60 V298.50 H346.55 V300.00 H348.50 V301.50 H349.50 V302.80 H350.50 V304.10 H351.50 V305.40 H355.40 V306.60 H359.20 V307.70 H361.50 V309.20 H367.70 V309.20 H370.80 V310.80 H374.60 V312.30 H386.20 V312.30 H388.50 V314.60 H390.80 V316.90 H395.40 V317.70 H400.50 V318.20 H403.20 V319.60 H410.50 V320.00 H412.40 V321.10 H416.00 V321.80 H418.80 V323.30 H422.40 V324.70 H424.30 V326.00 H428.80 V326.40 H430.60 V327.90 H437.00 V328.20 H438.90 V329.70 H484.00 V329.70" fill="none" stroke="#dc6450" stroke-width="0.75"/><path d="M308.60,257.80 H309.26 V259.06 H309.92 V260.32 H310.58 V261.58 H311.24 V262.84 H311.90 V264.10 H312.15 V265.38 H312.40 V266.67 H312.65 V267.95 H312.90 V269.23 H313.15 V270.52 H313.40 V271.80 H313.78 V273.07 H314.17 V274.33 H314.55 V275.60 H314.93 V276.87 H315.32 V278.13 H315.70 V279.40 H316.16 V280.62 H316.62 V281.84 H317.08 V283.06 H317.54 V284.28 H318.00 V285.50 H318.44 V286.70 H318.88 V287.90 H319.32 V289.10 H319.76 V290.30 H320.20 V291.50 H320.55 V292.78 H320.90 V294.07 H321.25 V295.35 H321.60 V296.63 H321.95 V297.92 H322.30 V299.20 H322.74 V300.41 H323.19 V301.63 H323.63 V302.84 H324.07 V304.06 H324.51 V305.27 H324.96 V306.49 H325.40 V307.70 H327.70 V310.00 H328.73 V311.27 H329.77 V312.53 H330.80 V313.80 H332.07 V315.10 H333.33 V316.40 H334.60 V317.70 H339.20 V320.00 H343.00 V321.50 H346.90 V322.60 H348.45 V324.00 H350.00 V325.40 H353.00 V326.20 H360.00 V326.60 H364.60 V328.20 H369.20 V328.80 H378.50 V329.20 H383.00 V330.80 H386.20 V331.50 H409.60 V332.00 H411.00 V333.90 H418.80 V334.30 H420.20 V336.00" fill="none" stroke="#45b578" stroke-width="0.75"/><rect x="277.70" y="58.30" width="3.00" height="3.00" rx="0.5" fill="#4274c2" stroke="#3565b5" stroke-width="0.25"/><path d="M278.40,59.80 L279.00,60.40 L280.00,59.20" fill="none" stroke="#dfe9fb" stroke-width="0.4"/><rect x="320.70" y="58.30" width="3.00" height="3.00" rx="0.5" fill="#eef0f2" stroke="#d0d4d8" stroke-width="0.25"/><rect x="363.50" y="58.30" width="3.00" height="3.00" rx="0.5" fill="#4274c2" stroke="#3565b5" stroke-width="0.25"/><path d="M364.20,59.80 L364.80,60.40 L365.80,59.20" fill="none" stroke="#dfe9fb" stroke-width="0.4"/></svg>
</div></body></html>
